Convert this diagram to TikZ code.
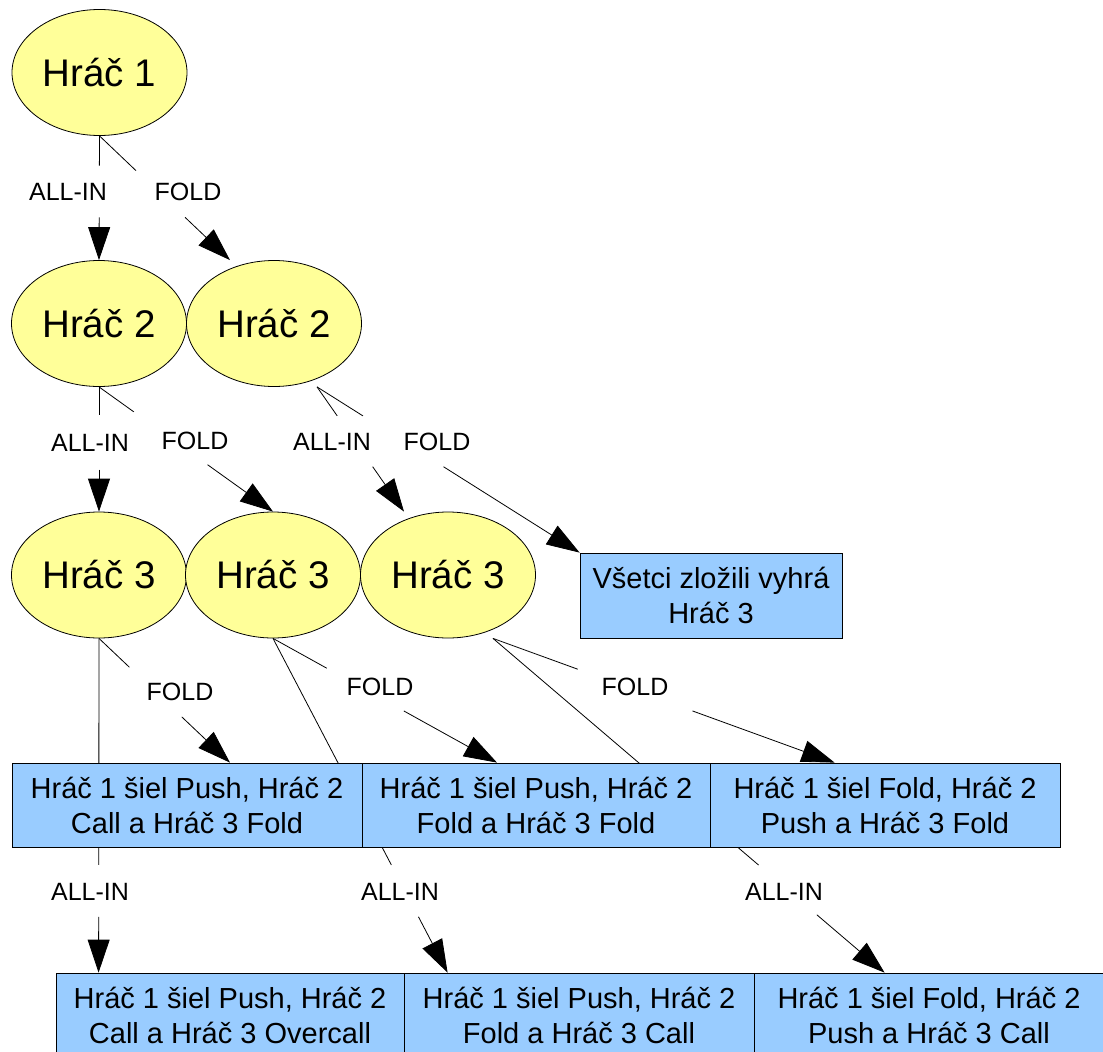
\documentclass[tikz,border=0pt]{standalone}
\usepackage{fontspec}
\setmainfont{Liberation Sans}
\usetikzlibrary{shapes.geometric,arrows.meta,calc}
\pgfdeclarelayer{canvas}
\pgfdeclarelayer{background}
\pgfsetlayers{canvas,background,main}
\definecolor{ellfill}{HTML}{FFFF99}
\definecolor{boxfill}{HTML}{99CCFF}
\newcommand\gapedge[4]{%
  \draw[conn] (#1) -- ($(#1)!#3!(#2)$);
  \draw[arr] ($(#1)!#4!(#2)$) -- (#2);}
\begin{document}
\begin{tikzpicture}[x=1pt,y=-1pt,
  player/.style={ellipse,draw,fill=ellfill,line width=0.8pt,minimum width=175pt,minimum height=126pt,inner sep=0pt,font=\fontsize{38.5}{44}\selectfont},
  outcome/.style={rectangle,draw,fill=boxfill,line width=0.8pt,minimum height=85pt,inner sep=0pt,align=center,font=\fontsize{29}{35}\selectfont},
  lbl/.style={font=\fontsize{25}{30}\selectfont,inner sep=0pt},
  conn/.style={line width=0.8pt},
  arr/.style={line width=0.8pt,-{Triangle[length=33pt,width=22pt]}}]
\useasboundingbox (0,0) rectangle (1103,1052);
\begin{pgfonlayer}{canvas}
\fill[white] (0,0) rectangle (1103,1052);
\end{pgfonlayer}

% players
\node[player] (h1)  at (99.5,72.5) {Hráč 1};
\node[player] (h2a) at (99,323.5) {Hráč 2};
\node[player] (h2b) at (274,323.5) {Hráč 2};
\node[player] (h3a) at (99,575) {Hráč 3};
\node[player] (h3b) at (273,575) {Hráč 3};
\node[player] (h3c) at (448,575) {Hráč 3};

% outcomes
\node[outcome,minimum width=262pt] (win) at (711,595.5) {Všetci zložili vyhrá\\Hráč 3};
\node[outcome,minimum width=350pt,minimum height=84pt] (m1) at (187,805) {Hráč 1 šiel Push, Hráč 2\\Call a Hráč 3 Fold};
\node[outcome,minimum width=348pt,minimum height=84pt] (m2) at (536,805) {Hráč 1 šiel Push, Hráč 2\\Fold a Hráč 3 Fold};
\node[outcome,minimum width=350pt,minimum height=84pt] (m3) at (885,805) {Hráč 1 šiel Fold, Hráč 2\\Push a Hráč 3 Fold};
\node[outcome,minimum width=348pt,minimum height=84pt] (b1) at (230,1015) {Hráč 1 šiel Push, Hráč 2\\Call a Hráč 3 Overcall};
\node[outcome,minimum width=350pt,minimum height=84pt] (b2) at (579,1015) {Hráč 1 šiel Push, Hráč 2\\Fold a Hráč 3 Call};
\node[outcome,minimum width=350pt,minimum height=84pt] (b3) at (929,1015) {Hráč 1 šiel Fold, Hráč 2\\Push a Hráč 3 Call};

% connection points
\coordinate (t2) at ($(h2b.north)+(-44,0)$);
\coordinate (s5) at ($(h2b.south)+(43,0)$);
\coordinate (t5) at ($(h3c.north)+(-44,0)$);
\coordinate (t7) at ($(b1.north west)+(43,0)$);
\coordinate (t8) at ($(m1.north)+(43,0)$);
\coordinate (t9) at ($(b2.north west)+(44,0)$);
\coordinate (t10) at ($(m2.north)+(-39,0)$);
\coordinate (s11) at ($(h3c.south)+(45,0)$);
\coordinate (t11) at ($(b3.north west)+(131,0)$);
\coordinate (t12) at ($(m3.north west)+(125,0)$);

\begin{pgfonlayer}{background}
  \gapedge{h1.south}{h2a.north}{0.24}{0.656}
  \gapedge{h1.south}{t2}{0.28}{0.656}
  \gapedge{h2a.south}{h3a.north}{0.224}{0.664}
  \gapedge{h2a.south}{h3b.north}{0.2}{0.624}
  \gapedge{s5}{t5}{0.232}{0.64}
  \gapedge{s5}{win.north west}{0.175}{0.482}
  \gapedge{h3a.south}{t7}{0.678}{0.833}
  \gapedge{h3a.south}{t8}{0.232}{0.632}
  \gapedge{h3b.south}{t9}{0.678}{0.833}
  \gapedge{h3b.south}{t10}{0.24}{0.584}
  \gapedge{s11}{t11}{0.678}{0.827}
  \gapedge{s11}{t12}{0.248}{0.584}
\end{pgfonlayer}

% labels
\node[lbl] (l1)  at (68,192)  {ALL-IN};
\node[lbl] (l2)  at (188,192) {FOLD};
\node[lbl] (l3)  at (90,443)  {ALL-IN};
\node[lbl] (l4)  at (195,441) {FOLD};
\node[lbl] (l5)  at (332,442) {ALL-IN};
\node[lbl] (l6)  at (437,442) {FOLD};
\node[lbl] (l7)  at (90,892)  {ALL-IN};
\node[lbl] (l8)  at (180,692) {FOLD};
\node[lbl] (l9)  at (400,892) {ALL-IN};
\node[lbl] (l10) at (380,687) {FOLD};
\node[lbl] (l11) at (784,892) {ALL-IN};
\node[lbl] (l12) at (635,687) {FOLD};
\end{tikzpicture}
\end{document}
